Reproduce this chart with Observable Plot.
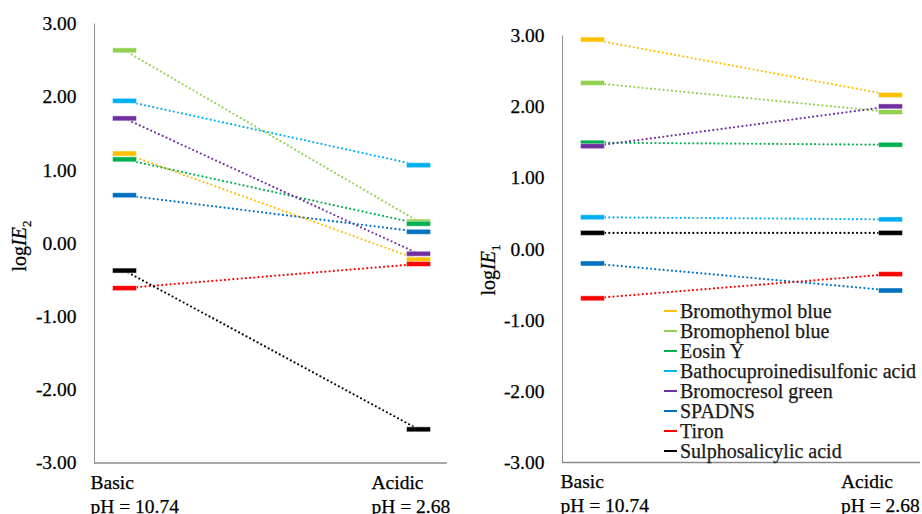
<!DOCTYPE html>
<html>
<head>
<meta charset="utf-8">
<script src="https://cdn.jsdelivr.net/npm/d3@7"></script>
<script src="https://cdn.jsdelivr.net/npm/@observablehq/plot@0.6"></script>
<style>
  html, body { margin: 0; padding: 0; background: #fff; }
  #wrap { position: relative; width: 922px; height: 514px; overflow: hidden; font-family: "Liberation Serif", "DejaVu Serif", serif; }
  .panel { position: absolute; top: 0; }
  .panel svg { color: #8c8c8c; overflow: visible; }
  .panel svg text { fill: #000; stroke: #000; stroke-width: 0.25px; }
  #legend { position: absolute; left: 664px; top: 301px; font-size: 20px; color: #1a1a1a; -webkit-text-stroke: 0.25px #1a1a1a; }
  #legend .row { height: 20px; line-height: 20px; white-space: nowrap; display: flex; align-items: center; }
  #legend .sw { display: inline-block; width: 13px; height: 2px; margin-right: 3px; }
</style>
</head>
<body>
<div id="wrap">
  <div class="panel" id="left" style="left:0px"></div>
  <div class="panel" id="right" style="left:460px"></div>
  <div id="legend"></div>
</div>
<script>
// ---- data ----
const conditions = ["Basic\npH = 10.74", "Acidic\npH = 2.68"];
const series = ["Bromothymol blue", "Bromophenol blue", "Eosin Y", "Bathocuproinedisulfonic acid",
                "Bromocresol green", "SPADNS", "Tiron", "Sulphosalicylic acid"];
const colors = ["#FFC000", "#92D050", "#00B050", "#00B0F0", "#7030A0", "#0070C0", "#FF0000", "#000000"];
const logIE2Basic  = [1.23, 2.64, 1.15, 1.95, 1.71, 0.66, -0.61, -0.37];
const logIE2Acidic = [-0.22, 0.30, 0.27, 1.07, -0.14, 0.16, -0.28, -2.54];
const logIE1Basic  = [2.95, 2.34, 1.50, 0.45, 1.45, -0.20, -0.69, 0.23];
const logIE1Acidic = [2.17, 1.93, 1.47, 0.42, 2.01, -0.58, -0.35, 0.23];
const yTicks = [-3, -2, -1, 0, 1, 2, 3];

const FONT = '"Liberation Serif", "DejaVu Serif", serif';

function rows(basic, acidic) {
  const out = [];
  series.forEach((s, i) => {
    out.push({series: s, cond: conditions[0], v: basic[i]});
    out.push({series: s, cond: conditions[1], v: acidic[i]});
  });
  return out;
}

const dashSymbol = {
  draw(ctx) {
    ctx.moveTo(-12, -2.5); ctx.lineTo(12, -2.5); ctx.lineTo(12, 2.5); ctx.lineTo(-12, 2.5); ctx.closePath();
  }
};

function panel(data, opts) {
  const svg = Plot.plot({
    width: opts.width, height: 514,
    marginLeft: opts.ml, marginRight: opts.mr, marginTop: opts.mt, marginBottom: opts.mb,
    style: {fontFamily: FONT, fontSize: "19.5px", background: "transparent"},
    x: {type: "point", domain: conditions, padding: 0.1, axis: null},
    y: {domain: [yTicks[0], yTicks[yTicks.length - 1]], ticks: yTicks, tickFormat: d => d.toFixed(2),
        tickSize: 0, tickPadding: 18, label: null, line: true},
    color: {domain: series, range: colors},
    marks: [
      Plot.ruleY([yTicks[0]], {strokeWidth: 1.5}),
      Plot.line(data, {x: "cond", y: "v", z: "series", stroke: "series", strokeWidth: 2.2,
        strokeDasharray: "0,4.2", strokeLinecap: "round"}),
      Plot.dot(data, {x: "cond", y: "v", fill: "series", symbol: dashSymbol, stroke: "white", strokeOpacity: 0.6, strokeWidth: 0.8}),
      Plot.text([conditions[0]], {x: d => d, text: d => d, frameAnchor: "bottom", textAnchor: "start",
        lineAnchor: "top", lineHeight: 1.23, dx: opts.dxB, dy: 8.5}),
      Plot.text([conditions[1]], {x: d => d, text: d => d, frameAnchor: "bottom", textAnchor: "start",
        lineAnchor: "top", lineHeight: 1.23, dx: opts.dxA, dy: 8.5})
    ]
  });
  d3.select(svg).selectAll("text").attr("font-family", FONT);
  // y-axis title with italic and subscript
  const t = d3.select(svg).append("text")
    .attr("transform", `translate(${opts.lx},${opts.ly}) rotate(-90)`)
    .attr("text-anchor", "middle")
    .attr("font-size", "20px")
    .attr("font-family", FONT);
  t.append("tspan").text("log");
  t.append("tspan").attr("font-style", "italic").text("IE");
  t.append("tspan").attr("font-size", "13px").attr("dy", "5").text(opts.sub);
  return svg;
}

document.getElementById("left").appendChild(panel(rows(logIE2Basic, logIE2Acidic),
  {width: 460, ml: 94, mr: 13, mt: 23.5, mb: 51.5, dxB: -34, dxA: -47, lx: 26, ly: 246, sub: "2"}));
document.getElementById("right").appendChild(panel(rows(logIE1Basic, logIE1Acidic),
  {width: 462, ml: 102, mr: 2, mt: 35.5, mb: 52, dxB: -32, dxA: -49.5, lx: 35, ly: 270, sub: "1"}));

// legend
const lg = document.getElementById("legend");
series.forEach((s, i) => {
  const r = document.createElement("div"); r.className = "row";
  const sw = document.createElement("span"); sw.className = "sw"; sw.style.background = colors[i];
  const tx = document.createElement("span"); tx.textContent = s;
  r.appendChild(sw); r.appendChild(tx); lg.appendChild(r);
});
</script>
</body>
</html>
